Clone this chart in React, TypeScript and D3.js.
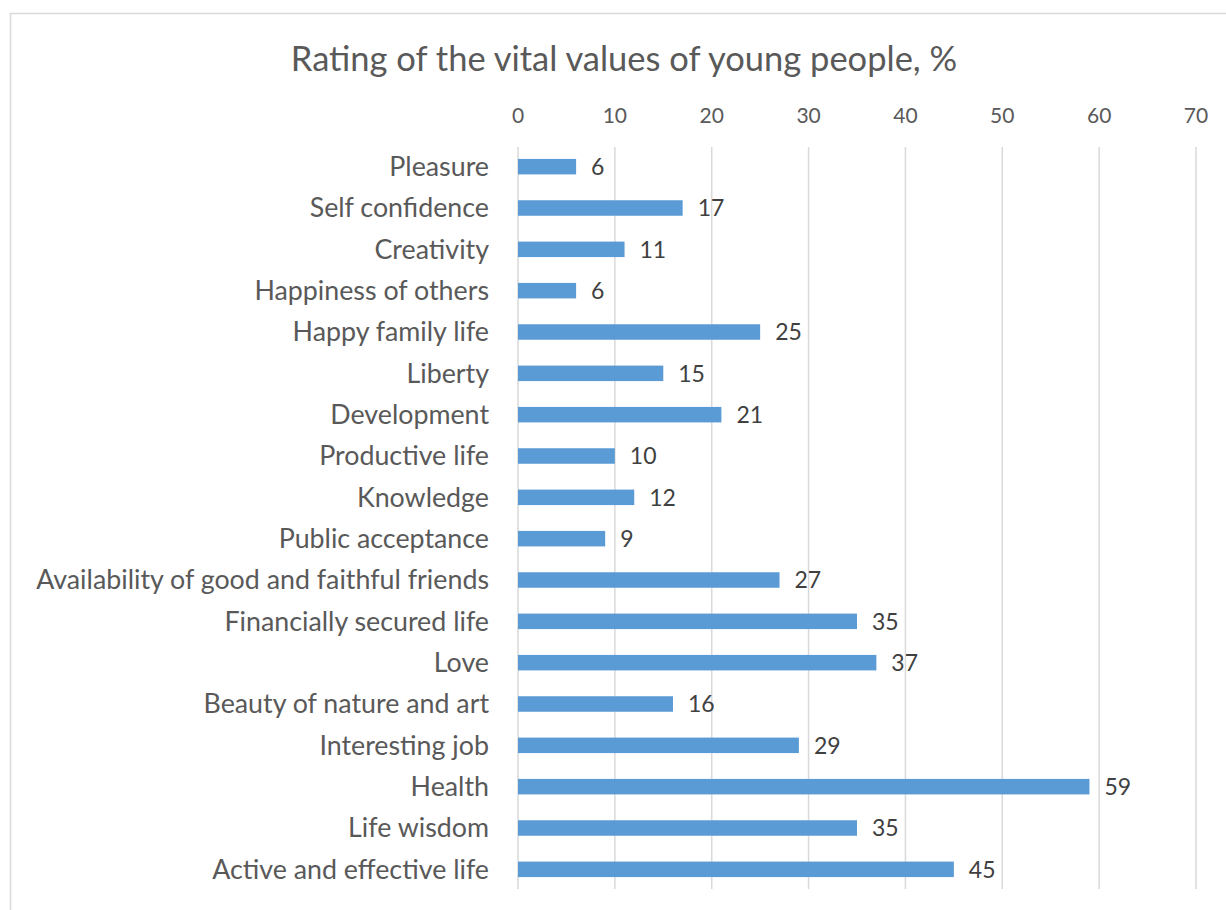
import React from "react";
import * as d3 from "d3";

const categories = [
  "Pleasure",
  "Self confidence",
  "Creativity",
  "Happiness of others",
  "Happy family life",
  "Liberty",
  "Development",
  "Productive life",
  "Knowledge",
  "Public acceptance",
  "Availability of good and faithful friends",
  "Financially secured life",
  "Love",
  "Beauty of nature and art",
  "Interesting job",
  "Health",
  "Life wisdom",
  "Active and effective life",
];
const values = [6, 17, 11, 6, 25, 15, 21, 10, 12, 9, 27, 35, 37, 16, 29, 59, 35, 45];
const ticks = [0, 10, 20, 30, 40, 50, 60, 70];
const title = "Rating of the vital values of young people, %";

const W = 1226;
const H = 910;
const FONT = "Lato, 'Open Sans', sans-serif";

export default function App() {
  const x = d3.scaleLinear().domain([0, 70]).range([518, 1196]);
  const y = d3.scaleBand<string>().domain(categories).range([146, 890]).paddingInner(0.625).paddingOuter(0.3125);
  return (
    <svg width={W} height={H} style={{ position: "absolute", left: 0, top: 0 }} fontFamily={FONT}>
      <rect x={0} y={0} width={W} height={H} fill="#fff" />
      <rect x={10.5} y={13.5} width={W + 10} height={H + 10} fill="none" stroke="#d9d9d9" strokeWidth={1.5} />
      <text x={624} y={71} textAnchor="middle" fontSize={34.5} fill="#595959">
        {title}
      </text>
      {ticks.map((t) => (
        <g key={t}>
          <line x1={x(t)} x2={x(t)} y1={147} y2={889} stroke="#d9d9d9" strokeWidth={1.5} />
          <text x={x(t)} y={123} textAnchor="middle" fontSize={21} fill="#595959">
            {t}
          </text>
        </g>
      ))}
      {categories.map((c, i) => (
        <g key={c}>
          <rect x={x(0)} y={y(c)!} width={x(values[i]) - x(0)} height={y.bandwidth()} fill="#5b9bd5" />
          <text x={489} y={y(c)! + y.bandwidth() / 2} dy="0.35em" textAnchor="end" fontSize={26.8} fill="#595959">
            {c}
          </text>
          <text x={x(values[i]) + 15} y={y(c)! + y.bandwidth() / 2} dy="0.36em" fontSize={23} fill="#404040">
            {values[i]}
          </text>
        </g>
      ))}
    </svg>
  );
}
